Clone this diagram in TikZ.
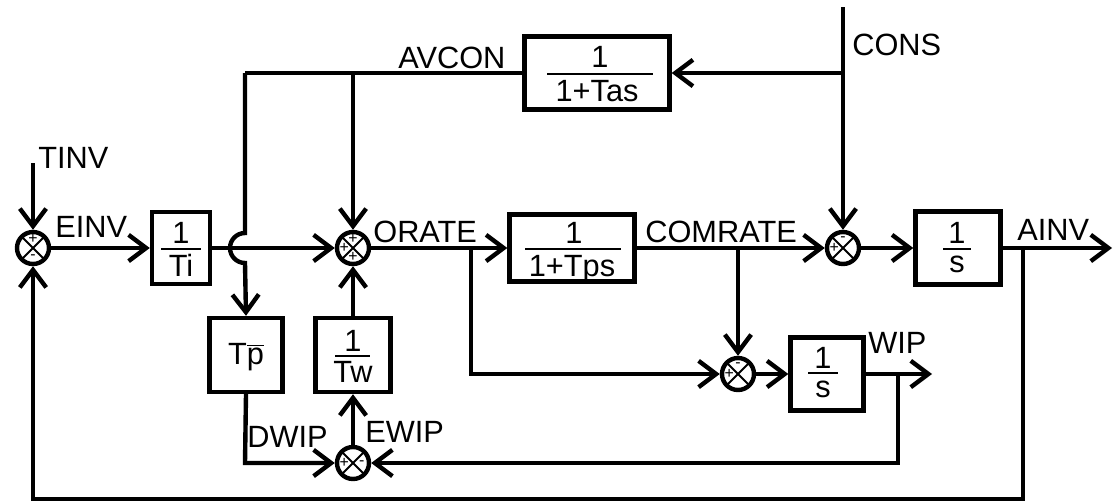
\documentclass[tikz,border=0pt]{standalone}
\usepackage{fontspec}
\setmainfont{Liberation Sans}
\usetikzlibrary{arrows.meta}
\begin{document}
\begin{tikzpicture}[x=0.02cm,y=-0.02cm,
  con/.style={line width=2.5pt, line join=miter},
  arr/.style={con, -{Straight Barb[length=10pt,width=15pt]}},
  blk/.style={draw, line width=2.5pt, rectangle, inner sep=0pt},
  sumj/.style={draw, circle, line width=2.5pt, minimum size=32*0.02cm, inner sep=0pt,
    path picture={\draw[line width=1.1pt] (path picture bounding box.north west) -- (path picture bounding box.south east)
      (path picture bounding box.north east) -- (path picture bounding box.south west);}},
  lbl/.style={font=\fontsize{17.5}{17.5}\selectfont, inner sep=0pt, anchor=base west},
  txt/.style={font=\fontsize{17.5}{17.5}\selectfont, inner sep=0pt, anchor=base},
  bar/.style={line width=1.4pt},
  sgn/.style={font=\fontsize{9}{9}\selectfont, inner sep=0pt}
]
\useasboundingbox (0,0) rectangle (1113,504);

% summing junctions
\node[sumj] (s1) at (33,248) {};
\node[sumj] (s2) at (353,248) {};
\node[sumj] (s3) at (843,248) {};
\node[sumj] (s4) at (738,374) {};
\node[sumj] (s5) at (353,463) {};

% signs
\node[sgn] (s1a) at ([yshift=5pt]s1.center) {+};
\node[sgn] (s1b) at ([yshift=-5pt]s1.center) {-};
\node[sgn] (s2a) at ([yshift=5pt]s2.center) {+};
\node[sgn] (s2b) at ([xshift=-5pt]s2.center) {+};
\node[sgn] (s2c) at ([yshift=-5pt]s2.center) {+};
\node[sgn] (s3a) at ([yshift=5pt]s3.center) {-};
\node[sgn] (s3b) at ([xshift=-5pt]s3.center) {+};
\node[sgn] (s4a) at ([yshift=5pt]s4.center) {-};
\node[sgn] (s4b) at ([xshift=-5pt]s4.center) {+};
\node[sgn] (s5a) at ([xshift=-5pt]s5.center) {+};
\node[sgn] (s5b) at ([xshift=5pt]s5.center) {-};

% blocks
\node[blk, minimum width=58*0.02cm, minimum height=72*0.02cm] (ti) at (181,248) {};
\node[txt] (tin) at (181,243) {1};
\draw[bar] (161,249) -- (201,249);
\node[txt] (tid) at (181,276) {Ti};

\node[blk, minimum width=73*0.02cm, minimum height=74*0.02cm] (tp) at (246,355) {};
\node[txt] (tpt) at (246,364) {T$\overline{\hbox{p}}$};

\node[blk, minimum width=75*0.02cm, minimum height=74*0.02cm] (tw) at (353,355) {};
\node[txt] (twn) at (353,351) {1};
\draw[bar] (335,356) -- (370,356);
\node[txt] (twd) at (353,382) {Tw};

\node[blk, minimum width=145*0.02cm, minimum height=73*0.02cm] (tas) at (597,73) {};
\node[txt] (tasn) at (600,67) {1};
\draw[bar] (547,74) -- (653,74);
\node[txt] (tasd) at (597,101) {1+Tas};

\node[blk, minimum width=125*0.02cm, minimum height=67*0.02cm] (tps) at (572,248) {};
\node[txt] (tpsn) at (574,243) {1};
\draw[bar] (525,249) -- (621,249);
\node[txt] (tpsd) at (572,276) {1+Tps};

\node[blk, minimum width=85*0.02cm, minimum height=73*0.02cm] (iu) at (958,248) {};
\node[txt] (iun) at (957,243) {1};
\draw[bar] (943,249) -- (971,249);
\node[txt] (iud) at (957,272) {s};

\node[blk, minimum width=73*0.02cm, minimum height=73*0.02cm] (il) at (827,374) {};
\node[txt] (iln) at (823,368) {1};
\draw[bar] (808,373) -- (838,373);
\node[txt] (ild) at (823,397) {s};

% coordinates
\coordinate (tinv) at (33,163);
\coordinate (hopT) at (245,73);
\coordinate (hopA) at (245,233);
\coordinate (av2) at (353,73);
\coordinate (consT) at (843,7);
\coordinate (consB) at (843,73);
\coordinate (orB) at (471,248);
\coordinate (orC) at (471,374);
\coordinate (comB) at (738,248);
\coordinate (ainvE) at (1112,248);
\coordinate (fbA) at (1023,248);
\coordinate (fbB) at (1023,499);
\coordinate (fbC) at (33,499);
\coordinate (wipE) at (932,374);
\coordinate (wA) at (898,374);
\coordinate (wB) at (898,463);
\coordinate (dw) at (245,463);

% connectors
\draw[arr] (tinv) -- (s1.north);
\draw[arr] (s1.east) -- (ti.west);
\draw[arr] (ti.east) -- (s2.west);
\draw[con] (tas.west) -- (hopT);
\draw[arr] (hopT) -- (hopA) arc[start angle=-90, end angle=-270, radius=15] -- (tp.north);
\draw[arr] (av2) -- (s2.north);
\draw[arr] (tw.north) -- (s2.south);
\draw[arr] (s5.north) -- (tw.south);
\draw[arr] (tp.south) -- (dw) -- (s5.west);
\draw[arr] (s2.east) -- (tps.west);
\draw[arr] (orB) -- (orC) -- (s4.west);
\draw[arr] (tps.east) -- (s3.west);
\draw[arr] (comB) -- (s4.north);
\draw[arr] (consT) -- (s3.north);
\draw[arr] (consB) -- (tas.east);
\draw[arr] (s3.east) -- (iu.west);
\draw[arr] (iu.east) -- (ainvE);
\draw[arr] (fbA) -- (fbB) -- (fbC) -- (s1.south);
\draw[arr] (s4.east) -- (il.west);
\draw[arr] (il.east) -- (wipE);
\draw[arr] (wA) -- (wB) -- (s5.east);

% labels
\node[lbl] (ltinv) at (38,168) {TINV};
\node[lbl] (leinv) at (55,237) {EINV};
\node[lbl] (lavcon) at (398,68) {AVCON};
\node[lbl] (lorate) at (373,242) {ORATE};
\node[lbl] (lcom) at (645,242) {COMRATE};
\node[lbl] (lcons) at (852,55) {CONS};
\node[lbl] (lainv) at (1017,240) {AINV};
\node[lbl] (lwip) at (868,353) {WIP};
\node[lbl] (ldwip) at (247,447) {DWIP};
\node[lbl] (lewip) at (365,442) {EWIP};
\end{tikzpicture}
\end{document}
